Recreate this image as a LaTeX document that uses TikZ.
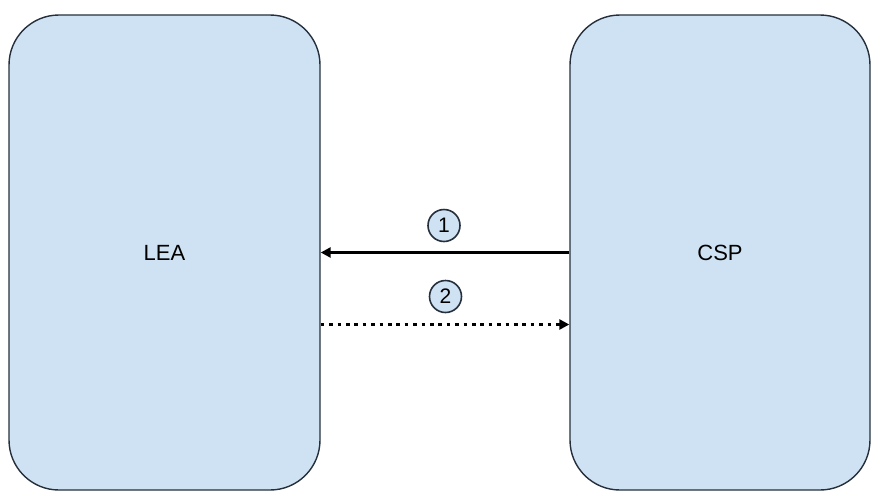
\documentclass[tikz,border=0pt]{standalone}
\usepackage{fontspec}
\setmainfont{Liberation Sans}
\usetikzlibrary{arrows.meta,positioning}
\definecolor{partyblue}{RGB}{207,226,244}
\definecolor{partyline}{RGB}{38,48,60}

\begin{document}
\begin{tikzpicture}[x=1pt, y=-1pt,
                    party/.style = {
                      draw=partyline, line width=1.4pt,
                      fill=partyblue,
                      rounded corners=50pt,
                      minimum height=475pt,
                      font=\fontsize{22}{24}\selectfont
                    },
                    stepno/.style = {
                      circle, draw=partyline, line width=1.6pt,
                      fill=partyblue, inner sep=0pt,
                      minimum size=32pt,
                      font=\fontsize{21}{23}\selectfont
                    },
                    msg/.style = {
                      line width=2.6pt,
                      -{Triangle[length=10pt,width=10pt]}
                    }]
    \useasboundingbox (0,0) rectangle (871,491);
    % the two parties
    \node[party, minimum width=311pt] (lea) at (164.5,252.5) {LEA};
    \node[party, minimum width=300pt] (csp) at (720,252.5) {CSP};
    % messages
    \draw[msg] (csp.west) -- (lea.east);
    \draw[msg, line width=3.6pt, dash pattern=on 3.6pt off 4.8pt]
      ([yshift=-72pt]lea.east) -- ([yshift=-72pt]csp.west);
    % step numbers
    \node[stepno] (one) at (444,225.5) {1};
    \node[stepno] (two) at (445.5,296.5) {2};
  \end{tikzpicture}
\end{document}
